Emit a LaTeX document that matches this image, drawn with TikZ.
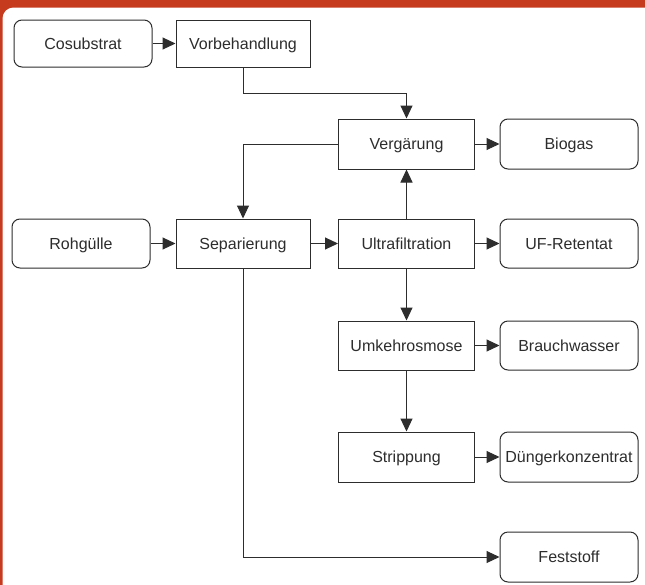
\documentclass[tikz,border=0pt]{standalone}
\usepackage{fontspec}
\setmainfont{Liberation Sans}
\usetikzlibrary{arrows.meta,calc}
\definecolor{frame}{RGB}{198,58,30}
\definecolor{ink}{RGB}{45,45,45}
\begin{document}
\begin{tikzpicture}[x=1pt,y=-1pt,
  base/.style={draw=ink,line width=1pt,text=ink,font=\fontsize{16}{19}\selectfont,inner sep=0pt,text height=11.5pt,text depth=0pt,anchor=center},
  pbox/.style={base},
  rbox/.style={base,rounded corners=8pt},
  arr/.style={draw=ink,line width=1pt,-{Triangle[length=13pt,width=12pt]}}]
\useasboundingbox (0,0) rectangle (645,584);
\begin{scope}
\clip (0,0) rectangle (645,584);
\fill[frame] (-5,-5) rectangle (650,590);
\fill[white,rounded corners=11pt] (2.5,7.5) rectangle (670,610);
\end{scope}
% nodes
\node[rbox,minimum width=138pt,minimum height=47pt] (cos) at (83,43.5) {Cosubstrat};
\node[pbox,minimum width=134pt,minimum height=47pt] (vorb) at (243,43.5) {Vorbehandlung};
\node[pbox,minimum width=136pt,minimum height=50pt] (verg) at (406.5,144) {Vergärung};
\node[rbox,minimum width=138pt,minimum height=50pt] (bio) at (569,144) {Biogas};
\node[rbox,minimum width=138pt,minimum height=49pt] (roh) at (81,243.5) {Rohgülle};
\node[pbox,minimum width=134pt,minimum height=49pt] (sep) at (243,243.5) {Separierung};
\node[pbox,minimum width=136pt,minimum height=49pt] (uf) at (406.5,243.5) {Ultrafiltration};
\node[rbox,minimum width=138pt,minimum height=49pt] (ufr) at (569,243.5) {UF-Retentat};
\node[pbox,minimum width=136pt,minimum height=49pt] (umk) at (406.5,345.5) {Umkehrosmose};
\node[rbox,minimum width=138pt,minimum height=49pt] (bw) at (569,345.5) {Brauchwasser};
\node[pbox,minimum width=136pt,minimum height=50pt] (str) at (406.5,457) {Strippung};
\node[rbox,minimum width=138pt,minimum height=50pt] (dk) at (569,457) {Düngerkonzentrat};
\node[rbox,minimum width=138pt,minimum height=50pt] (fest) at (569,557) {Feststoff};
% connectors
\draw[arr] (cos) -- (vorb);
\draw[arr] (vorb.south) -- ++(0,26) -| (verg.north);
\draw[arr] (verg) -- (bio);
\draw[arr] (verg.west) -| (sep.north);
\draw[arr] (roh) -- (sep);
\draw[arr] (sep) -- (uf);
\draw[arr] (uf) -- (ufr);
\draw[arr] (uf.north) -- (verg.south);
\draw[arr] (uf.south) -- (umk.north);
\draw[arr] (umk) -- (bw);
\draw[arr] (umk) -- (str);
\draw[arr] (str) -- (dk);
\draw[arr] (sep.south) |- (fest.west);
\end{tikzpicture}
\end{document}
